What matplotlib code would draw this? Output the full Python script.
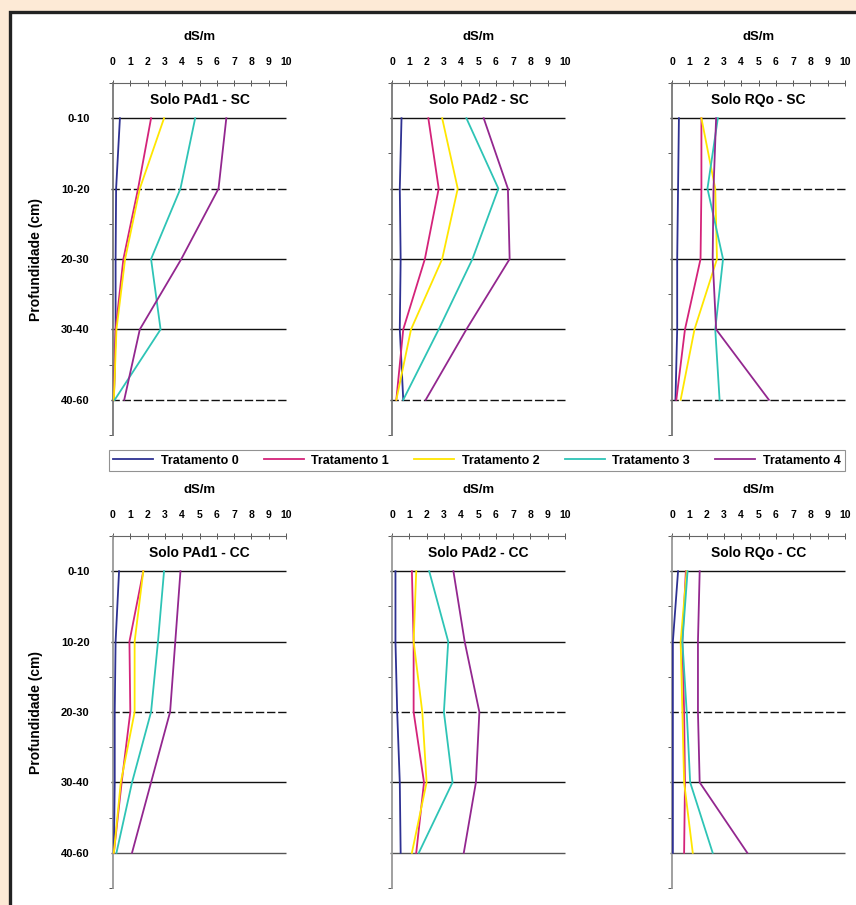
import matplotlib
matplotlib.use("Agg")
import matplotlib.pyplot as plt
from matplotlib.patches import Rectangle
from matplotlib.lines import Line2D

plt.rcParams['font.family'] = ['Liberation Sans', 'DejaVu Sans']

# ---------------- data ----------------
depths = ["0-10", "10-20", "20-30", "30-40", "40-60"]
x_ticks = [0, 1, 2, 3, 4, 5, 6, 7, 8, 9, 10]
treatments = ["Tratamento 0", "Tratamento 1", "Tratamento 2", "Tratamento 3", "Tratamento 4"]
titles = ["Solo PAd1 - SC", "Solo PAd2 - SC", "Solo RQo - SC",
          "Solo PAd1 - CC", "Solo PAd2 - CC", "Solo RQo - CC"]

pad1_sc_t0 = [0.40, 0.18, 0.15, 0.15, 0.05]
pad1_sc_t1 = [2.20, 1.45, 0.60, 0.15, 0.05]
pad1_sc_t2 = [2.95, 1.55, 0.70, 0.20, 0.05]
pad1_sc_t3 = [4.75, 3.90, 2.20, 2.75, 0.10]
pad1_sc_t4 = [6.55, 6.10, 3.95, 1.55, 0.65]

pad2_sc_t0 = [0.55, 0.45, 0.50, 0.45, 0.65]
pad2_sc_t1 = [2.10, 2.70, 1.90, 0.65, 0.25]
pad2_sc_t2 = [2.90, 3.80, 2.90, 1.10, 0.25]
pad2_sc_t3 = [4.30, 6.15, 4.65, 2.70, 0.65]
pad2_sc_t4 = [5.30, 6.70, 6.80, 4.30, 1.95]

rqo_sc_t0 = [0.40, 0.35, 0.30, 0.30, 0.20]
rqo_sc_t1 = [1.70, 1.70, 1.65, 0.75, 0.25]
rqo_sc_t2 = [1.70, 2.50, 2.60, 1.30, 0.50]
rqo_sc_t3 = [2.65, 2.05, 2.95, 2.50, 2.75]
rqo_sc_t4 = [2.55, 2.40, 2.35, 2.55, 5.60]

pad1_cc_t0 = [0.35, 0.15, 0.10, 0.10, 0.05]
pad1_cc_t1 = [1.75, 0.95, 1.00, 0.50, 0.05]
pad1_cc_t2 = [1.75, 1.25, 1.25, 0.45, 0.05]
pad1_cc_t3 = [2.95, 2.60, 2.20, 1.10, 0.20]
pad1_cc_t4 = [3.90, 3.60, 3.30, 2.20, 1.10]

pad2_cc_t0 = [0.20, 0.20, 0.30, 0.45, 0.50]
pad2_cc_t1 = [1.15, 1.25, 1.25, 1.85, 1.40]
pad2_cc_t2 = [1.40, 1.25, 1.75, 2.00, 1.15]
pad2_cc_t3 = [2.15, 3.25, 3.00, 3.50, 1.55]
pad2_cc_t4 = [3.55, 4.20, 5.05, 4.85, 4.15]

rqo_cc_t0 = [0.35, 0.05, 0.05, 0.05, 0.05]
rqo_cc_t1 = [0.80, 0.60, 0.70, 0.75, 0.70]
rqo_cc_t2 = [0.85, 0.50, 0.60, 0.70, 1.20]
rqo_cc_t3 = [0.90, 0.60, 0.85, 1.05, 2.35]
rqo_cc_t4 = [1.60, 1.50, 1.50, 1.60, 4.35]

panels = [
    [pad1_sc_t0, pad1_sc_t1, pad1_sc_t2, pad1_sc_t3, pad1_sc_t4],
    [pad2_sc_t0, pad2_sc_t1, pad2_sc_t2, pad2_sc_t3, pad2_sc_t4],
    [rqo_sc_t0, rqo_sc_t1, rqo_sc_t2, rqo_sc_t3, rqo_sc_t4],
    [pad1_cc_t0, pad1_cc_t1, pad1_cc_t2, pad1_cc_t3, pad1_cc_t4],
    [pad2_cc_t0, pad2_cc_t1, pad2_cc_t2, pad2_cc_t3, pad2_cc_t4],
    [rqo_cc_t0, rqo_cc_t1, rqo_cc_t2, rqo_cc_t3, rqo_cc_t4],
]

colors = ["#2E3192", "#D4237A", "#FFE600", "#2EC4B6", "#93278F"]

# ---------------- figure ----------------
W, H = 856, 905
fig = plt.figure(figsize=(W / 100, H / 100), dpi=100, facecolor="#FDEAD6")

# white sheet with dark frame (only top / left edges visible)
sheet = Rectangle((10 / W, -0.2), 1.2, 1 - 12 / H + 0.2, transform=fig.transFigure,
                  facecolor="white", edgecolor="#222222", linewidth=2.4, zorder=-10)
fig.patches.append(sheet)

col_left = [113, 392, 672]
row_top = [83, 536]
ax_w = 173
ax_h = 352

grid_styles = [
    ["-", (0, (6, 2)), "-", "-", (0, (6, 2))],
    ["-", "-", (0, (6, 2)), "-", "-"],
]

pos = list(range(1, len(depths) + 1))

for i, series in enumerate(panels):
    r, c = divmod(i, 3)
    left = col_left[c] / W
    bottom = 1 - (row_top[r] + ax_h) / H
    ax = fig.add_axes([left, bottom, ax_w / W, ax_h / H])
    ax.set_facecolor("none")

    # horizontal reference lines at each depth
    for k, p in enumerate(pos):
        gcol = "#111111" if not (r == 1 and k == 4) else "#555555"
        ax.plot([-0.1, 10], [p, p], color=gcol, lw=1.0, clip_on=False,
                linestyle=grid_styles[r][k], zorder=1, solid_capstyle="butt")

    for s, vals in enumerate(series):
        ax.plot(vals, pos, color=colors[s], lw=1.3, zorder=3, clip_on=False)

    ax.set_xlim(0, 10)
    ax.set_ylim(5.5, 0.5)

    for sp in ["right", "bottom"]:
        ax.spines[sp].set_visible(False)
    ax.spines["top"].set_color("#666666")
    ax.spines["top"].set_linewidth(0.8)
    ax.spines["left"].set_color("#777777" if r == 0 else "#999999")
    ax.spines["left"].set_linewidth(1.3)

    ax.xaxis.tick_top()
    ax.xaxis.set_label_position("top")
    ax.set_xticks(x_ticks)
    ax.set_xticklabels([str(t) for t in x_ticks], fontsize=7.5, fontweight="bold")
    ax.tick_params(axis="x", direction="inout", length=5, width=0.7,
                   color="#555555", pad=9)
    ax.set_xlabel("dS/m", fontsize=9.5, fontweight="bold", labelpad=12)

    ax.set_yticks(pos)
    ax.set_yticks([p - 0.5 for p in pos] + [pos[-1] + 0.5], minor=True)
    if c == 0:
        ax.set_yticklabels(depths, fontsize=8, fontweight="bold")
        ax.set_ylabel("Profundidade (cm)", fontsize=10, fontweight="bold", labelpad=13)
    else:
        ax.set_yticklabels([])
    ax.tick_params(axis="y", which="major", length=0, pad=17)
    ax.tick_params(axis="y", which="minor", length=3, width=0.7, color="#555555",
                   direction="out")

    ax.text(5, 0.74, titles[i], ha="center", va="center", fontsize=10,
            fontweight="bold")

# legend
handles = [Line2D([0], [0], color=colors[s], lw=1.3) for s in range(5)]
leg = fig.legend(handles, treatments, ncol=5, mode="expand",
                 bbox_to_anchor=(109 / W, 1 - 471 / H, (845 - 109) / W, 24 / H),
                 loc="lower left", frameon=True, fancybox=False,
                 prop={"size": 9, "weight": "bold"}, handlelength=3.2,
                 handletextpad=0.6, borderaxespad=0, borderpad=0.35)
leg.get_frame().set_edgecolor("#777777")
leg.get_frame().set_linewidth(0.8)

fig.savefig("out.png", dpi=100, facecolor=fig.get_facecolor())
